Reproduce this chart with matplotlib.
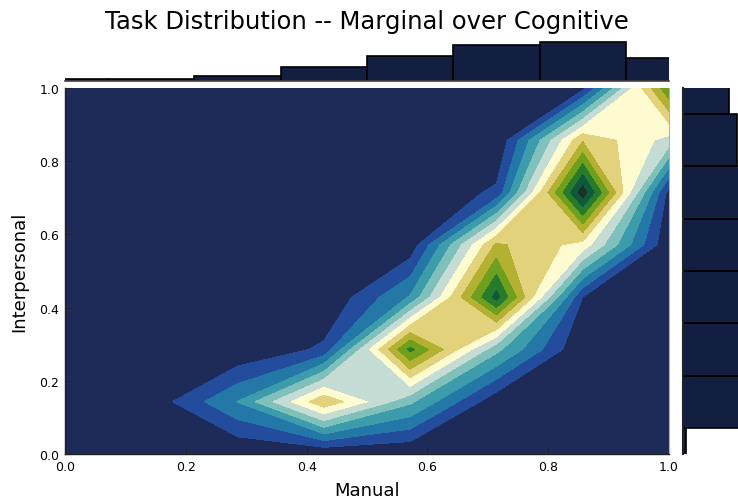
import numpy as np
import matplotlib
matplotlib.use("Agg")
import matplotlib.pyplot as plt

# ---------------- data ----------------
manual_grid = [0, 1/7, 2/7, 3/7, 4/7, 5/7, 6/7, 1]
interpersonal_grid = [0, 1/7, 2/7, 3/7, 4/7, 5/7, 6/7, 1]

# joint density (rows = Interpersonal, columns = Manual)
density_row0 = [0, 0.00, 0.00, 0.00, 0.00, 0.00, 0.00, 0.00]
density_row1 = [0, 0.34, 3.03, 7.82, 4.20, 0.25, 0.00, 0.00]
density_row2 = [0, 0.00, 0.05, 1.20, 10.3, 4.30, 0.00, 0.00]
density_row3 = [0, 0.00, 0.00, 0.00, 3.10, 11.4, 1.00, 0.00]
density_row4 = [0, 0.00, 0.00, 0.00, 0.27, 8.20, 6.60, 0.10]
density_row5 = [0, 0.00, 0.00, 0.00, 0.00, 1.20, 12.6, 0.60]
density_row6 = [0, 0.00, 0.00, 0.00, 0.00, 0.00, 7.90, 5.60]
density_row7 = [0, 0.00, 0.00, 0.00, 0.00, 0.00, 0.70, 9.90]

manual_marginal = [0.044, 0.062, 0.138, 0.36, 0.65, 0.93, 1.0, 0.60]
interpersonal_marginal = [0.085, 1.50, 1.52, 1.50, 1.50, 1.46, 1.38, 1.17]

levels = list(range(14))
band_colors = ["#1e2a58", "#244c9c", "#2478a8", "#3c9cac", "#80c0ba",
               "#c4dcd4", "#fffbd0", "#e2d27c", "#b4b032", "#6ea01e",
               "#287a2c", "#0e5a3a", "#1c3224"]
bar_color = "#131f40"

Z = np.array([density_row0, density_row1, density_row2, density_row3,
              density_row4, density_row5, density_row6, density_row7])

W, H = 738, 502
fig = plt.figure(figsize=(W / 100, H / 100), dpi=100)


def box(x0, y0, x1, y1):
    return [x0 / W, 1 - y1 / H, (x1 - x0) / W, (y1 - y0) / H]


ax = fig.add_axes(box(65, 89, 669, 455))
axt = fig.add_axes(box(65, 38, 669, 82))
axr = fig.add_axes(box(683, 89, 743, 455))

ax.contourf(manual_grid, interpersonal_grid, Z, levels=levels, colors=band_colors)
ax.set_xlim(0, 1)
ax.set_ylim(0, 1)
ticks = [0.0, 0.2, 0.4, 0.6, 0.8, 1.0]
ax.set_xticks(ticks)
ax.set_yticks(ticks)
ax.set_xticklabels([f"{t:.1f}" for t in ticks])
ax.set_yticklabels([f"{t:.1f}" for t in ticks])
ax.tick_params(direction="in", length=4, width=0.8, labelsize=9, pad=4,
               color="#222222")
ax.spines["top"].set_visible(False)
ax.spines["right"].set_color("#b0b0b0")
ax.spines["right"].set_linewidth(0.8)
for s in ["left", "bottom"]:
    ax.spines[s].set_color("#222222")
    ax.spines[s].set_linewidth(1.0)
ax.set_xlabel("Manual", fontsize=13, labelpad=6)
ax.set_ylabel("Interpersonal", fontsize=13, labelpad=8)

# top marginal
axt.bar(manual_grid, manual_marginal, width=1 / 7, color=bar_color,
        edgecolor="black", linewidth=1.2)
axt.set_xlim(0, 1)
axt.set_ylim(0, 1.128)
axt.set_xticks([])
axt.set_yticks([])
for s in ["top", "left", "right"]:
    axt.spines[s].set_visible(False)
axt.spines["bottom"].set_color("#444444")
axt.spines["bottom"].set_linewidth(1.2)

# right marginal
axr.barh(interpersonal_grid, interpersonal_marginal, height=1 / 7,
         color=bar_color, edgecolor="black", linewidth=1.2)
axr.set_ylim(0, 1)
axr.set_xlim(0, 60 / 39)
axr.set_xticks([])
axr.set_yticks([])
for s in ["top", "bottom", "right"]:
    axr.spines[s].set_visible(False)
axr.spines["left"].set_color("#222222")
axr.spines["left"].set_linewidth(1.5)

fig.text(367 / W, 1 - 22 / H, "Task Distribution -- Marginal over Cognitive",
         ha="center", va="center", fontsize=17.5)

fig.savefig("out.png", dpi=100)
